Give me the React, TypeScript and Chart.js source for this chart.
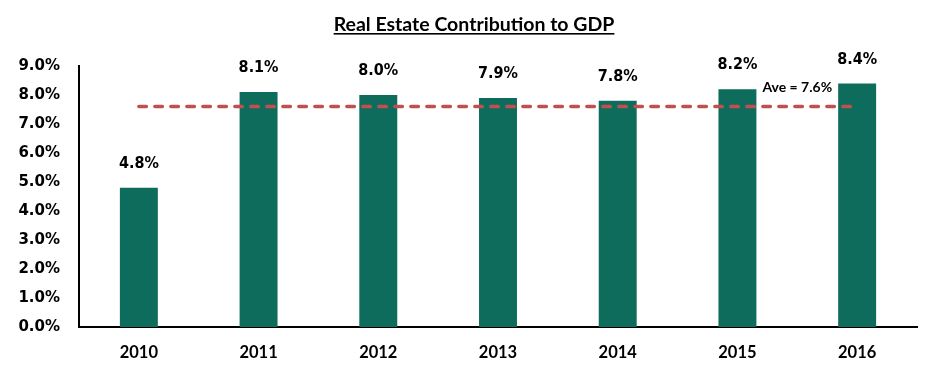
import React, { useEffect, useRef } from "react";
import { Chart, registerables } from "chart.js";

Chart.register(...registerables);

const TITLE = "Real Estate Contribution to GDP";
const YEARS = ["2010", "2011", "2012", "2013", "2014", "2015", "2016"];
const CONTRIBUTION = [4.8, 8.1, 8.0, 7.9, 7.8, 8.2, 8.4];
const AVERAGE = 7.6;
const AVERAGE_LABEL = "Ave = 7.6%";
const Y_MIN = 0;
const Y_MAX = 9;
const Y_STEP = 1;

const BAR_COLOR = "#0E6C5C";
const AVG_COLOR = "#C0504D";
const FONT = "'DejaVu Sans', sans-serif";
const FONT_COND = "'DejaVu Sans Condensed', 'DejaVu Sans', sans-serif";
const FONT_CAL = "Lato, 'Open Sans', sans-serif";

const overlayPlugin = {
  id: "overlay",
  afterDraw(chart: any) {
    const ctx = chart.ctx;
    const x = chart.scales.x;
    const y = chart.scales.y;
    ctx.save();
    // value labels
    ctx.fillStyle = "#000";
    ctx.font = `bold 16px ${FONT_COND}`;
    ctx.textAlign = "center";
    ctx.textBaseline = "middle";
    const meta = chart.getDatasetMeta(0);
    meta.data.forEach((bar: any, i: number) => {
      ctx.fillText(CONTRIBUTION[i].toFixed(1) + "%", bar.x, bar.y - 24);
    });
    // average label
    ctx.font = `bold 14px ${FONT_CAL}`;
    const ax = (x.getPixelForValue(5) + x.getPixelForValue(6)) / 2;
    ctx.fillText(AVERAGE_LABEL, ax, y.getPixelForValue(AVERAGE) - 19);
    // title
    ctx.font = `bold 19.5px ${FONT_CAL}`;
    ctx.textBaseline = "alphabetic";
    const tw = ctx.measureText(TITLE).width;
    const cx = 474;
    ctx.fillText(TITLE, cx, 31);
    ctx.fillRect(cx - tw / 2, 33, tw, 1.6);
    ctx.restore();
  },
};

export default function App() {
  const ref = useRef<HTMLCanvasElement>(null);
  useEffect(() => {
    if (!ref.current) return;
    const chart = new Chart(ref.current, {
      type: "bar",
      data: {
        labels: YEARS,
        datasets: [
          {
            type: "bar",
            data: CONTRIBUTION,
            backgroundColor: BAR_COLOR,
            barPercentage: 0.317,
            categoryPercentage: 1,
            order: 2,
          },
          {
            type: "line",
            data: YEARS.map(() => AVERAGE),
            borderColor: AVG_COLOR,
            borderWidth: 3.5,
            borderDash: [7.5, 8.5],
            borderCapStyle: "round",
            pointRadius: 0,
            fill: false,
            order: 1,
          } as any,
        ],
      },
      options: {
        responsive: false,
        animation: false,
        devicePixelRatio: 1,
        layout: { padding: { top: 66, left: 0, right: 11, bottom: 0 } },
        plugins: {
          legend: { display: false },
          title: { display: false },
          tooltip: { enabled: false },
        },
        scales: {
          x: {
            grid: { display: false },
            border: { display: true, color: "#000", width: 2 },
            ticks: {
              color: "#000",
              font: { family: FONT_CAL, size: 16.5, weight: "bold" },
              padding: 8,
            },
            afterFit(scale: any) {
              scale.height = 45;
            },
          },
          y: {
            min: Y_MIN,
            max: Y_MAX,
            grid: { display: false },
            border: { display: true, color: "#000", width: 2 },
            ticks: {
              stepSize: Y_STEP,
              color: "#000",
              font: { family: FONT, size: 15, weight: "bold" },
              padding: 11,
              callback: (v: any) => Number(v).toFixed(1) + "%",
            },
            afterFit(scale: any) {
              scale.width = 79;
            },
          },
        },
      },
      plugins: [overlayPlugin],
    });
    return () => chart.destroy();
  }, []);
  return (
    <div style={{ position: "absolute", left: 0, top: 0, width: 928, height: 372, background: "#fff" }}>
      <canvas ref={ref} width={928} height={372} />
    </div>
  );
}
